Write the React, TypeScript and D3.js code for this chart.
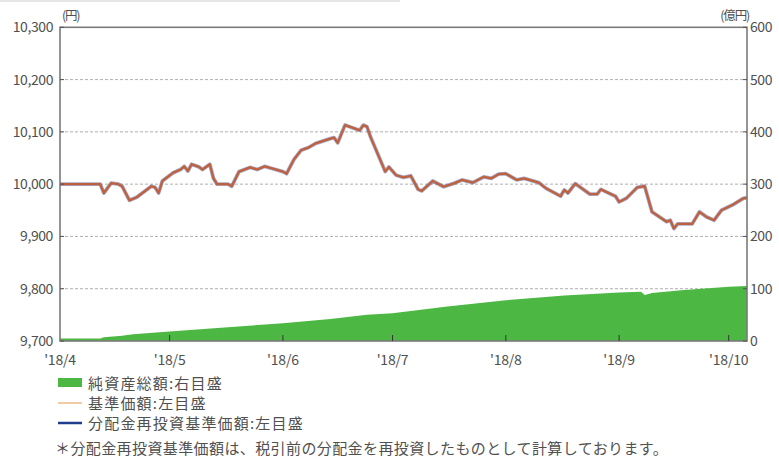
import { FC } from "react";
import * as d3 from "d3";

// 基準価額 (円) / 分配金再投資基準価額 — the two lines overlap
const navDates = [
  "2018-04-01", "2018-04-12", "2018-04-13", "2018-04-15", "2018-04-17", "2018-04-18", "2018-04-20",
  "2018-04-22", "2018-04-26", "2018-04-27", "2018-04-28", "2018-04-29", "2018-05-02", "2018-05-04",
  "2018-05-05", "2018-05-06", "2018-05-07", "2018-05-09", "2018-05-10", "2018-05-12", "2018-05-13",
  "2018-05-14", "2018-05-17", "2018-05-18", "2018-05-20", "2018-05-23", "2018-05-25", "2018-05-27",
  "2018-05-29", "2018-06-01", "2018-06-02", "2018-06-04", "2018-06-06", "2018-06-08", "2018-06-10",
  "2018-06-14", "2018-06-15", "2018-06-16", "2018-06-18", "2018-06-20", "2018-06-22", "2018-06-23",
  "2018-06-24", "2018-06-25", "2018-06-29", "2018-06-30", "2018-07-02", "2018-07-04", "2018-07-06",
  "2018-07-08", "2018-07-09", "2018-07-12", "2018-07-15", "2018-07-18", "2018-07-20", "2018-07-23",
  "2018-07-26", "2018-07-28", "2018-07-30", "2018-08-01", "2018-08-04", "2018-08-06", "2018-08-10",
  "2018-08-12", "2018-08-16", "2018-08-17", "2018-08-18", "2018-08-20", "2018-08-24", "2018-08-26",
  "2018-08-27", "2018-08-31", "2018-09-01", "2018-09-03", "2018-09-06", "2018-09-08", "2018-09-10",
  "2018-09-14", "2018-09-15", "2018-09-16", "2018-09-17", "2018-09-21", "2018-09-23", "2018-09-25",
  "2018-09-27", "2018-09-29", "2018-10-02", "2018-10-05", "2018-10-06",
];
const navValues = [
  10000, 10000, 9983, 10002, 10000, 9996, 9969,
  9975, 9996, 9994, 9983, 10006, 10022, 10028,
  10034, 10025, 10038, 10033, 10028, 10038, 10011,
  10000, 10000, 9996, 10024, 10032, 10028, 10034,
  10030, 10024, 10020, 10047, 10065, 10070, 10078,
  10087, 10089, 10079, 10113, 10108, 10103, 10113,
  10110, 10090, 10024, 10033, 10017, 10013, 10016,
  9990, 9987, 10006, 9995, 10002, 10008, 10003,
  10014, 10011, 10019, 10020, 10008, 10011, 10003,
  9992, 9977, 9989, 9983, 10001, 9981, 9981,
  9990, 9977, 9966, 9973, 9994, 9996, 9947,
  9928, 9931, 9915, 9924, 9924, 9947, 9937,
  9931, 9950, 9960, 9973, 9974,
];

// 純資産総額 (億円)
const assetDates = [
  "2018-04-01", "2018-04-12", "2018-04-13", "2018-04-18", "2018-04-21", "2018-05-01", "2018-05-16",
  "2018-06-01", "2018-06-14", "2018-06-24", "2018-07-01", "2018-07-16", "2018-08-01", "2018-08-17",
  "2018-09-01", "2018-09-07", "2018-09-08", "2018-09-10", "2018-09-18", "2018-10-01", "2018-10-06",
];
const assetValues = [
  5, 5, 7, 10, 13, 18, 26,
  34, 42, 50, 53, 66, 78, 87,
  93, 94, 88, 92, 97, 104, 105,
];

const leftTicks = [9700, 9800, 9900, 10000, 10100, 10200, 10300];
const rightTicks = [0, 100, 200, 300, 400, 500, 600];
const monthTicks = ["2018-04-01", "2018-05-01", "2018-06-01", "2018-07-01", "2018-08-01", "2018-09-01", "2018-10-01"];
const monthLabels = ["'18/4", "'18/5", "'18/6", "'18/7", "'18/8", "'18/9", "'18/10"];

const legendItems = ["純資産総額:右目盛", "基準価額:左目盛", "分配金再投資基準価額:左目盛"];
const footnote = "＊分配金再投資基準価額は、税引前の分配金を再投資したものとして計算しております。";

const W = 779;
const H = 459;
const m = { left: 60, right: 747, top: 27.3, bottom: 341 };
const font = "'Noto Sans CJK JP', 'Noto Sans', sans-serif";
const textColor = "#505050";

const parse = d3.timeParse("%Y-%m-%d");

const App: FC = () => {
  const x = d3
    .scaleTime()
    .domain([parse("2018-04-01") as Date, parse("2018-10-06") as Date])
    .range([m.left, m.right]);
  const yL = d3.scaleLinear().domain([9700, 10300]).range([m.bottom, m.top]);
  const yR = d3.scaleLinear().domain([0, 600]).range([m.bottom, m.top]);

  const nav = navDates.map((d, i) => ({ date: parse(d) as Date, v: navValues[i] }));
  const assets = assetDates.map((d, i) => ({ date: parse(d) as Date, v: assetValues[i] }));

  const area = d3
    .area<{ date: Date; v: number }>()
    .x((d) => x(d.date))
    .y0(yR(0))
    .y1((d) => yR(d.v));
  const line = d3
    .line<{ date: Date; v: number }>()
    .x((d) => x(d.date))
    .y((d) => yL(d.v));

  return (
    <svg width={W} height={H} style={{ position: "fixed", left: 0, top: 0, background: "#fff" }} fontFamily={font}>
      <line x1={0} x2={400} y1={1} y2={1} stroke="#e6e6e6" strokeWidth={2} />
      {/* grid */}
      {leftTicks.slice(1, -1).map((t) => (
        <line key={t} x1={m.left} x2={m.right} y1={yL(t)} y2={yL(t)} stroke="#9a9a9a" strokeWidth={0.8} strokeDasharray="3,2" />
      ))}
      <path d={area(assets) || ""} fill="#4cb843" />
      <path d={line(nav) || ""} fill="none" stroke="#5a6aa8" strokeWidth={3.8} strokeOpacity={0.55} strokeLinejoin="round" />
      <path d={line(nav) || ""} fill="none" stroke="#c0603c" strokeWidth={2.3} strokeLinejoin="round" />

      {/* frame */}
      <rect x={m.left} y={m.top} width={m.right - m.left} height={m.bottom - m.top} fill="none" stroke="#7a7a7a" strokeWidth={1.6} />

      {/* left axis */}
      {leftTicks.map((t) => (
        <g key={t}>
          <line x1={m.left} x2={m.left + 4} y1={yL(t)} y2={yL(t)} stroke="#555" strokeWidth={1} />
          <text x={53} y={yL(t) + 5} textAnchor="end" fontSize={14} fill={textColor} letterSpacing={-0.4}>
            {d3.format(",")(t)}
          </text>
        </g>
      ))}
      {/* right axis */}
      {rightTicks.map((t) => (
        <g key={t}>
          <line x1={m.right - 4} x2={m.right} y1={yR(t)} y2={yR(t)} stroke="#555" strokeWidth={1} />
          <text x={750} y={yR(t) + 5} fontSize={14} fill={textColor} letterSpacing={-0.4}>
            {t}
          </text>
        </g>
      ))}
      <text x={62} y={20} fontSize={12.5} fill={textColor} letterSpacing={-1.2}>(円)</text>
      <text x={749} y={20} fontSize={12.5} fill={textColor} textAnchor="end" letterSpacing={-1.2}>(億円)</text>

      {/* x axis */}
      {monthTicks.map((t, i) => {
        const xx = x(parse(t) as Date);
        return (
          <g key={t}>
            {i > 0 && <line x1={xx} x2={xx} y1={m.bottom} y2={m.bottom - 6} stroke="#333" strokeWidth={1} />}
            <text x={xx} y={365} textAnchor="middle" fontSize={14} fill={textColor} letterSpacing={-0.2}>
              {monthLabels[i]}
            </text>
          </g>
        );
      })}

      {/* legend */}
      <rect x={58} y={378} width={24} height={9} fill="#4cb843" />
      <line x1={58} x2={82} y1={403} y2={403} stroke="#f0cba3" strokeWidth={2} />
      <line x1={58} x2={82} y1={423} y2={423} stroke="#1f3c8c" strokeWidth={2.5} />
      {legendItems.map((s, i) => (
        <text key={s} x={88} y={388.5 + i * 20} fontSize={15} fill={textColor} letterSpacing={1.2}>
          {s}
        </text>
      ))}
      <text x={55} y={454} fontSize={15} fill={textColor} letterSpacing={0.4}>
        {footnote}
      </text>
    </svg>
  );
};

export default App;
